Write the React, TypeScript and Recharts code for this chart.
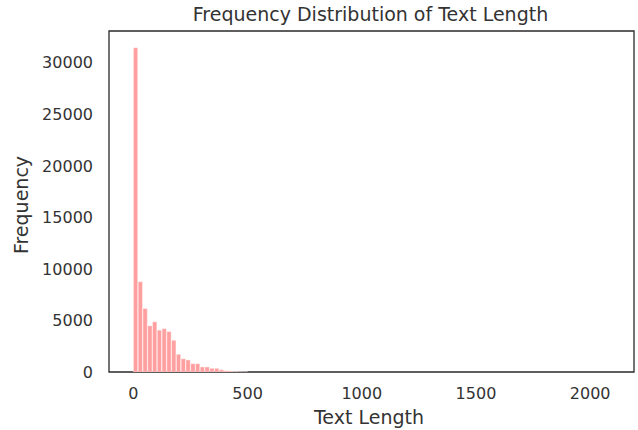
import React from 'react';
import { BarChart, Bar, XAxis, YAxis, ReferenceArea } from 'recharts';

// left edges of the histogram bins (text length), only bins with visible counts
const binStarts = [
  0, 20.9, 41.8, 62.7, 83.6, 104.5, 125.4, 146.3, 167.2, 188.1,
  209, 229.9, 250.8, 271.7, 292.6, 313.5, 334.4, 355.3, 376.2, 397.1,
  418, 438.9, 459.8, 480.7,
];
const counts = [
  31460, 8760, 6160, 4480, 4870, 4060, 4210, 3920, 3080, 1720,
  1290, 1170, 810, 810, 490, 490, 360, 360, 220, 120,
  80, 50, 30, 20,
];
const binWidth = 20.9;
const xTicks = [0, 500, 1000, 1500, 2000];
const yTicks = [0, 5000, 10000, 15000, 20000, 25000, 30000];

const data = binStarts.map((s, i) => ({ x: s + binWidth / 2, count: counts[i] }));

const ink = '#333333';
const font = 'DejaVu Sans, sans-serif';
const xDomain: [number, number] = [-107, 2192];
const yDomain: [number, number] = [0, 33080];

const labelStyle: React.CSSProperties = {
  position: 'absolute',
  fontSize: 19,
  color: ink,
  fontFamily: font,
  lineHeight: 'normal',
  whiteSpace: 'nowrap',
};

export default function App() {
  return (
    <div style={{ position: 'absolute', left: 0, top: 0, width: 638, height: 430, background: '#fff', overflow: 'hidden' }}>
      <div style={{ ...labelStyle, left: 0, width: 741, top: 3, textAlign: 'center' }}>
        Frequency Distribution of Text Length
      </div>
      <div style={{ ...labelStyle, left: 0, width: 738, top: 405.5, textAlign: 'center' }}>
        Text Length
      </div>
      <div
        style={{
          ...labelStyle,
          left: 20.6,
          top: 205,
          transform: 'translate(-50%, -50%) rotate(-90deg)',
        }}
      >
        Frequency
      </div>
      <BarChart
        width={638}
        height={430}
        data={data}
        margin={{ top: 31, right: 4, left: 39, bottom: 28 }}
        barCategoryGap={0}
        barGap={0}
        style={{ position: 'absolute', left: 0, top: 0 }}
      >
        <XAxis
          dataKey="x"
          type="number"
          domain={xDomain}
          ticks={xTicks}
          tickLine={false}
          tickMargin={10}
          axisLine={false}
          tick={{ fontSize: 16, fill: ink, fontFamily: font }}
          height={30}
          allowDataOverflow
        />
        <YAxis
          type="number"
          domain={yDomain}
          ticks={yTicks}
          tickLine={false}
          tickMargin={10}
          axisLine={false}
          tick={{ fontSize: 16, fill: ink, fontFamily: font }}
          width={70}
          allowDataOverflow
        />
        <Bar dataKey="count" fill="#ff9f9f" stroke="#ffffff" strokeWidth={0.4} barSize={4.8} isAnimationActive={false} />
        <ReferenceArea
          x1={xDomain[0]}
          x2={xDomain[1]}
          y1={yDomain[0]}
          y2={yDomain[1]}
          fill="none"
          stroke="#2a2a2a"
          strokeWidth={1.3}
          ifOverflow="visible"
        />
      </BarChart>
    </div>
  );
}
